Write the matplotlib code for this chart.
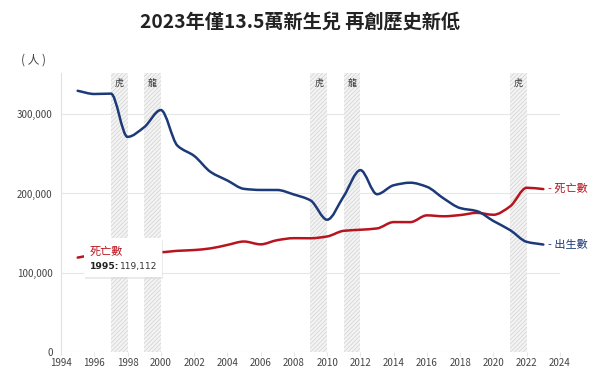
import matplotlib
matplotlib.use('Agg')
import matplotlib.pyplot as plt
from matplotlib.path import Path
from matplotlib.patches import PathPatch, Rectangle
from matplotlib.ticker import FuncFormatter

plt.rcParams['font.family'] = ['Noto Sans CJK TC', 'DejaVu Sans']
plt.rcParams['hatch.linewidth'] = 0.6

# data
years = list(range(1995, 2024))
births = [329581, 325545, 326002, 271450, 283661, 305312, 260354, 247530,
          227070, 216419, 205854, 204459, 204414, 198733, 191310, 166886,
          196627, 229481, 199113, 210383, 213598, 208440, 193844, 181601,
          177767, 165249, 153820, 138986, 135571]
deaths = [119112, 122489, 121000, 123180, 126113, 125958, 127647, 128636,
          130801, 135092, 139398, 135839, 141111, 143624, 143513, 145772,
          152915, 154251, 155908, 163929, 163858, 172405, 171242, 172784,
          175546, 173156, 183732, 207230, 205575]
# zodiac years (tiger / dragon) shaded
zodiac_years = [1998, 2000, 2010, 2012, 2022]
zodiac_labels = ['虎', '龍', '虎', '龍', '虎']

RED = '#b8141f'
BLUE = '#1c3a78'


def smooth_path(xs, ys):
    # monotone cubic (Fritsch-Carlson) through the points, as bezier curves
    n = len(xs)
    d = [(ys[i + 1] - ys[i]) / (xs[i + 1] - xs[i]) for i in range(n - 1)]
    m = [d[0]] + [0.0] * (n - 2) + [d[-1]]
    for i in range(1, n - 1):
        if d[i - 1] * d[i] > 0:
            m[i] = 2 / (1 / d[i - 1] + 1 / d[i])
    verts = [(xs[0], ys[0])]
    codes = [Path.MOVETO]
    for i in range(n - 1):
        h = xs[i + 1] - xs[i]
        verts += [(xs[i] + h / 3, ys[i] + m[i] * h / 3),
                  (xs[i + 1] - h / 3, ys[i + 1] - m[i + 1] * h / 3),
                  (xs[i + 1], ys[i + 1])]
        codes += [Path.CURVE4] * 3
    return Path(verts, codes)


fig = plt.figure(figsize=(6, 3.78), dpi=100)
ax = fig.add_axes([0.1017, 0.0688, 0.8316, 0.738])
ax.set_xlim(1994, 2024)
ax.set_ylim(0, 352000)

for y, lab in zip(zodiac_years, zodiac_labels):
    ax.axvspan(y - 1, y, facecolor='#f4f4f4', edgecolor='#d6d6d6',
               hatch='////////', linewidth=0, zorder=1)
    ax.annotate(lab, xy=(y - 0.5, 1.0), xycoords=ax.get_xaxis_transform(),
                xytext=(0, -4), textcoords='offset points',
                ha='center', va='top', fontsize=6.5, color='#333333')

ax.add_patch(PathPatch(smooth_path(years, deaths), facecolor='none',
                       edgecolor=RED, lw=1.8, zorder=3, capstyle='round'))
ax.add_patch(PathPatch(smooth_path(years, births), facecolor='none',
                       edgecolor=BLUE, lw=1.8, zorder=3, capstyle='round'))

ax.set_xticks(range(1994, 2025, 2))
ax.set_yticks([0, 100000, 200000, 300000])
ax.yaxis.set_major_formatter(FuncFormatter(lambda v, p: f'{int(v):,}'))
ax.grid(axis='y', color='#e6e6e6', lw=0.8)
ax.set_axisbelow(True)
for s in ['top', 'right', 'bottom']:
    ax.spines[s].set_visible(False)
ax.spines['left'].set_color('#e0e0e0')
ax.tick_params(axis='y', length=0, pad=6, labelsize=7, labelcolor='#444444')
ax.tick_params(axis='x', length=3, color='#e6e6e6', pad=1, labelsize=7,
               labelcolor='#444444')

# end labels
ax.annotate('- 死亡數', xy=(years[-1], deaths[-1]), xytext=(3, 0),
            textcoords='offset points', va='center', fontsize=8, color=RED)
ax.annotate('- 出生數', xy=(years[-1], births[-1]), xytext=(3, 0),
            textcoords='offset points', va='center', fontsize=8, color=BLUE)

# tooltip at 1995 deaths
px, py = ax.transData.transform((years[0], deaths[0]))
fig.patches.append(Rectangle((px + 7.5, py - 21), 78, 39, transform=None,
                             facecolor='#d8d8d8', edgecolor='none', alpha=0.5,
                             zorder=5, figure=fig))
fig.patches.append(Rectangle((px + 6, py - 19.5), 78, 39, transform=None,
                             facecolor='white', edgecolor='none', zorder=6,
                             figure=fig))
fig.text((px + 12) / 600, (py + 6) / 378, '死亡數', fontsize=8, color=RED,
         va='center', zorder=7)
fig.text((px + 12) / 600, (py - 9) / 378, '1995:', fontsize=6.6,
         fontweight='bold', color='#222222', va='center', zorder=7,
         family='DejaVu Sans')
fig.text((px + 42) / 600, (py - 9) / 378, f'{deaths[0]:,}', fontsize=6.6,
         color='#333333', va='center', zorder=7, family='DejaVu Sans')

fig.text(0.5, 0.94, '2023年僅13.5萬新生兒 再創歷史新低', ha='center',
         va='center', fontsize=13.8, fontweight='bold', color='#222222')
fig.text(0.035, 0.84, '( 人 )', ha='left', va='center', fontsize=8.5,
         color='#444444')

fig.savefig('out.png', dpi=100)
